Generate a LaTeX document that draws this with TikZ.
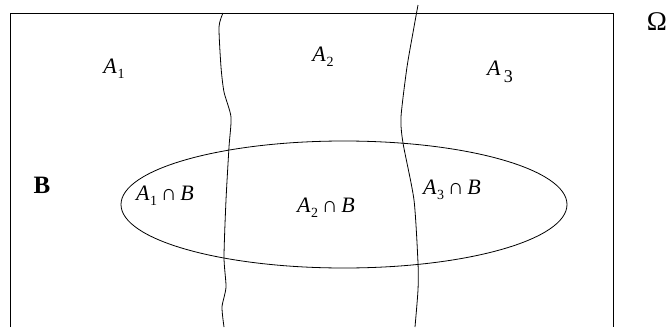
\documentclass[tikz,border=0pt]{standalone}
\usepackage{fontspec}
\setmainfont{Liberation Serif}
\newcommand{\Asub}[1]{\textit{A}\kern0.5pt\raisebox{-5pt}{\fontsize{14}{14}\selectfont #1}}
\begin{document}
\begin{tikzpicture}[x=1pt,y=-1pt, line width=0.8pt,
  lbl/.style={font=\fontsize{22}{24}\selectfont, inner sep=0pt},
  wave/.style={line width=0.8pt}]
\useasboundingbox (0,0) rectangle (670,327);
\fill[white] (0,0) rectangle (670,327);
\draw (10,327) -- (10,13) -- (613,13) -- (613,327);
\draw[wave] plot[smooth,tension=0.4] coordinates {(223,13) (219,27) (221,67) (224,92) (231,117) (229,147) (226,200) (224,257) (226,287) (222,307) (224,327)};
\draw[wave] plot[smooth,tension=0.4] coordinates {(418,5) (414,27) (407,67) (401,117) (403,143) (414,200) (418,263) (418,290) (415,327)};
\draw (344,204.5) ellipse [x radius=223pt, y radius=63.5pt];
\node[lbl] (a1) at (114,69) {\Asub{1}};
\node[lbl] (a2) at (323,57) {\Asub{2}};
\node[lbl] (a3) at (500,72) {\textit{A}\kern3pt\raisebox{-7pt}{\fontsize{18}{18}\selectfont 3}};
\node[lbl] (b1) at (165,196) {\Asub{1}\,∩\,\textit{B}};
\node[lbl] (b2) at (326,208) {\Asub{2}\,∩\,\textit{B}};
\node[lbl] (b3) at (452,190) {\Asub{3}\,∩\,\textit{B}};
\node[lbl, font=\fontsize{25}{27}\selectfont\bfseries] (bb) at (42,185) {B};
\node[lbl, font=\fontsize{27}{29}\selectfont] (om) at (657,22) {Ω};
\end{tikzpicture}
\end{document}
